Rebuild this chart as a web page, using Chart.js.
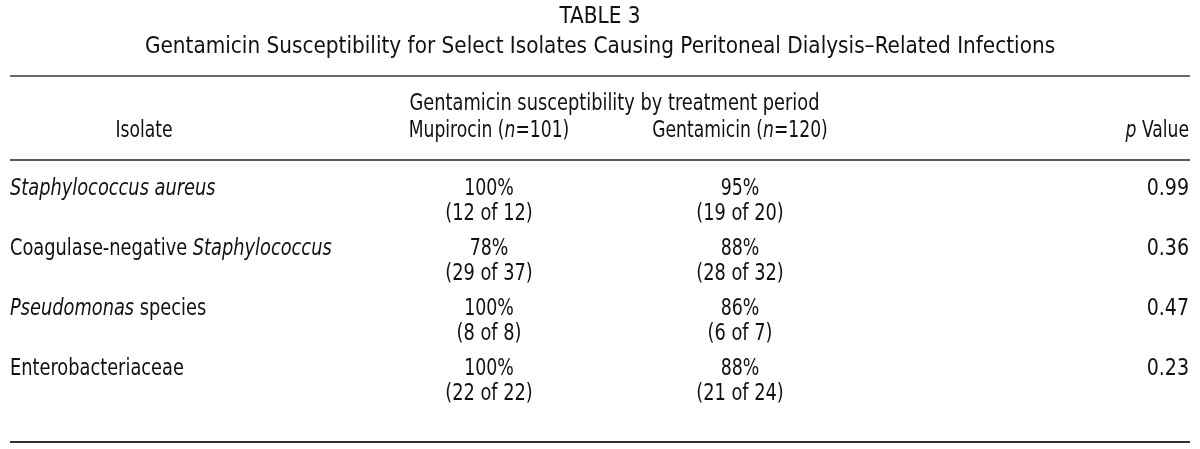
<!DOCTYPE html>
<html>
<head>
<meta charset="utf-8">
<script src="https://cdn.jsdelivr.net/npm/chart.js@4"></script>
<style>
  html, body { margin: 0; padding: 0; background: #ffffff; }
  #wrap { width: 1200px; height: 449px; position: relative; }
</style>
</head>
<body>
<div id="wrap"><canvas id="c"></canvas></div>
<script>
// ---- data ----
const tableNumber = "TABLE 3";
const tableTitle = "Gentamicin Susceptibility for Select Isolates Causing Peritoneal Dialysis\u2013Related Infections";
const groupHeader = "Gentamicin susceptibility by treatment period";
const isolates = ["Staphylococcus aureus", "Coagulase-negative Staphylococcus", "Pseudomonas species", "Enterobacteriaceae"];
const italicParts = ["Staphylococcus aureus", "Staphylococcus", "Pseudomonas", ""];
const periods = ["Mupirocin", "Gentamicin"];
const periodN = [101, 120];
const mupirocinPct = [100, 78, 100, 100];
const mupirocinSusceptible = [12, 29, 8, 22];
const mupirocinTotal = [12, 37, 8, 22];
const gentamicinPct = [95, 88, 86, 88];
const gentamicinSusceptible = [19, 28, 6, 21];
const gentamicinTotal = [20, 32, 7, 24];
const pValues = ["0.99", "0.36", "0.47", "0.23"];

// ---- layout (positions in scale units) ----
const COLX = { left: 10, isolate: 10, isolateHead: 144, mup: 489, gen: 740, p: 1189, right: 1190, center: 600 };
const ROWY = { title: -2.8667, subtitle: -2.3667, topRule: -1.9833, group: -1.4167, head: -0.9667, headRule: -0.5833, bottomRule: 4.1167, secondLine: 0.4167 };
const FONT_FAMILY = "'DejaVu Sans Condensed', 'DejaVu Sans', sans-serif";
const FONT_SIZE = 23;
const TEXT_COLOR = "#111111";
const SQUEEZE = { title: 0.97, head: 0.83, group: 0.86, body: 0.86, pct: 0.84, pval: 0.92 };

function font(italic, size) {
  return (italic ? "italic " : "") + (size || FONT_SIZE) + "px " + FONT_FAMILY;
}

function drawRich(ctx, segs, x, y, align, sx) {
  sx = sx || 1;
  let total = 0;
  const widths = segs.map(s => { ctx.font = font(s[1]); const w = ctx.measureText(s[0]).width; total += w; return w; });
  let start = 0;
  if (align === "center") start = -total / 2;
  else if (align === "right") start = -total;
  ctx.save();
  ctx.translate(x, y);
  ctx.scale(sx, 1);
  ctx.textAlign = "left";
  ctx.textBaseline = "alphabetic";
  segs.forEach((s, i) => {
    ctx.font = font(s[1]);
    ctx.fillText(s[0], start, 0);
    start += widths[i];
  });
  ctx.restore();
}

function isolateSegs(i) {
  const name = isolates[i];
  const it = italicParts[i];
  if (!it) return [[name, false]];
  const k = name.indexOf(it);
  const segs = [];
  if (k > 0) segs.push([name.slice(0, k), false]);
  segs.push([it, true]);
  if (k + it.length < name.length) segs.push([name.slice(k + it.length), false]);
  return segs;
}

const tablePlugin = {
  id: "tableText",
  afterDatasetsDraw(chart) {
    const ctx = chart.ctx;
    const xs = chart.scales.x, ys = chart.scales.y;
    const X = v => xs.getPixelForValue(v);
    const Y = v => ys.getPixelForValue(v);
    ctx.save();
    ctx.fillStyle = TEXT_COLOR;

    // titles
    drawRich(ctx, [[tableNumber, false]], X(COLX.center), Y(ROWY.title), "center", SQUEEZE.title);
    drawRich(ctx, [[tableTitle, false]], X(COLX.center), Y(ROWY.subtitle), "center", SQUEEZE.title);

    // rules
    const rule = (yv, color, w) => {
      ctx.beginPath();
      ctx.strokeStyle = color;
      ctx.lineWidth = w;
      ctx.moveTo(X(COLX.left), Y(yv));
      ctx.lineTo(X(COLX.right), Y(yv));
      ctx.stroke();
    };
    rule(ROWY.topRule, "#6b6b6b", 2);
    rule(ROWY.headRule, "#222222", 1.5);
    rule(ROWY.bottomRule, "#333333", 2);

    // headers
    drawRich(ctx, [[groupHeader, false]], X((COLX.mup + COLX.gen) / 2), Y(ROWY.group), "center", SQUEEZE.group);
    drawRich(ctx, [["Isolate", false]], X(COLX.isolateHead), Y(ROWY.head), "center", SQUEEZE.head);
    drawRich(ctx, [[periods[0] + " (", false], ["n", true], ["=" + periodN[0] + ")", false]], X(COLX.mup), Y(ROWY.head), "center", SQUEEZE.head);
    drawRich(ctx, [[periods[1] + " (", false], ["n", true], ["=" + periodN[1] + ")", false]], X(COLX.gen), Y(ROWY.head), "center", SQUEEZE.head);
    drawRich(ctx, [["p", true], [" Value", false]], X(COLX.p), Y(ROWY.head), "right", SQUEEZE.head);

    // body cells from dataset elements
    const lineGap = Y(ROWY.secondLine) - Y(0);
    chart.data.datasets.forEach((ds, di) => {
      const meta = chart.getDatasetMeta(di);
      meta.data.forEach((el, i) => {
        const x = el.x, y = el.y;
        if (ds.label === "Isolate") {
          drawRich(ctx, isolateSegs(i), x, y, "left", SQUEEZE.body);
        } else if (ds.label === "Mupirocin") {
          drawRich(ctx, [[mupirocinPct[i] + "%", false]], x, y, "center", SQUEEZE.pct);
          drawRich(ctx, [["(" + mupirocinSusceptible[i] + " of " + mupirocinTotal[i] + ")", false]], x, y + lineGap, "center", SQUEEZE.body);
        } else if (ds.label === "Gentamicin") {
          drawRich(ctx, [[gentamicinPct[i] + "%", false]], x, y, "center", SQUEEZE.pct);
          drawRich(ctx, [["(" + gentamicinSusceptible[i] + " of " + gentamicinTotal[i] + ")", false]], x, y + lineGap, "center", SQUEEZE.body);
        } else if (ds.label === "p") {
          drawRich(ctx, [[pValues[i], false]], x, y, "right", SQUEEZE.pval);
        }
      });
    });
    ctx.restore();
  }
};

const rowIdx = isolates.map((_, i) => i);
const mk = (label, xv, values) => ({
  label: label,
  data: rowIdx.map(i => ({ x: xv, y: i, v: values[i] })),
  pointRadius: 0,
  pointHoverRadius: 0,
  showLine: false
});

new Chart(document.getElementById("c"), {
  type: "scatter",
  data: {
    datasets: [
      mk("Isolate", COLX.isolate, isolates),
      mk("Mupirocin", COLX.mup, mupirocinPct),
      mk("Gentamicin", COLX.gen, gentamicinPct),
      mk("p", COLX.p, pValues)
    ]
  },
  options: {
    responsive: true,
    maintainAspectRatio: false,
    animation: false,
    layout: { padding: 0 },
    events: [],
    plugins: { legend: { display: false }, tooltip: { enabled: false }, title: { display: false } },
    scales: {
      x: { type: "linear", min: 0, max: 1200, display: false },
      y: { type: "linear", reverse: true, min: -3.25, max: -3.25 + 449 / 60, display: false }
    }
  },
  plugins: [tablePlugin]
});
</script>
</body>
</html>
